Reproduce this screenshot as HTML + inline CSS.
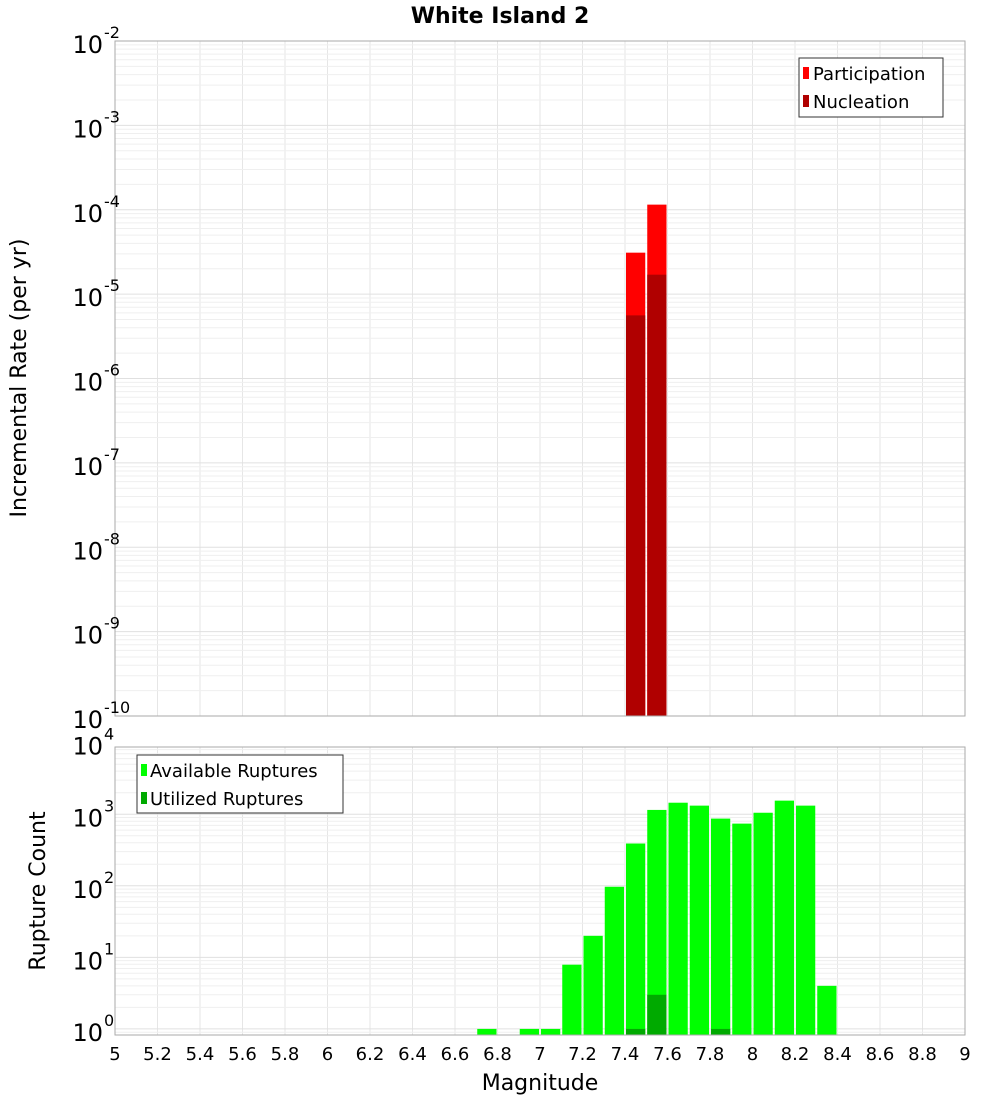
<!DOCTYPE html>
<html><head><meta charset="utf-8"><style>
body{margin:0;background:#fff;}
svg{display:block;font-family:"DejaVu Sans","Liberation Sans",sans-serif;}
</style></head><body>
<svg id="c" width="1000" height="1100"></svg>
<script>
const binCenters=[7.45,7.55];
const participation=[3.1e-5,1.15e-4];
const nucleation=[5.6e-6,1.7e-5];
const countBins=[6.75,6.95,7.05,7.15,7.25,7.35,7.45,7.55,7.65,7.75,7.85,7.95,8.05,8.15,8.25,8.35];
const available=[1,1,1,7.9,20,97,390,1150,1450,1320,870,740,1050,1550,1320,4];
const utilBins=[7.45,7.55,7.85];
const utilized=[1,3,1];
const xTicks=[5,5.2,5.4,5.6,5.8,6,6.2,6.4,6.6,6.8,7,7.2,7.4,7.6,7.8,8,8.2,8.4,8.6,8.8,9];
const topExp=[-2,-3,-4,-5,-6,-7,-8,-9,-10];
const botExp=[0,1,2,3,4];

const NS="http://www.w3.org/2000/svg";
const svg=document.getElementById('c');
function el(t,a,p){const e=document.createElementNS(NS,t);for(const k in a)e.setAttribute(k,a[k]);(p||svg).appendChild(e);return e;}
const X0=115,X1=965;
const x=v=>X0+(v-5)/4*(X1-X0);
const T0=41,T1=716;
const yT=v=>T0+(-2-Math.log10(v))*(T1-T0)/8;
const B0=747,B1=1035,bMin=-0.085,bMax=3.94;
const yB=v=>B1-(Math.log10(v)-bMin)/(bMax-bMin)*(B1-B0);

function grid(top,bot,yf,lo,hi){
  const g=el('g',{});
  
  
  for(const t of xTicks){el('line',{x1:x(t),x2:x(t),y1:top,y2:bot,stroke:'#e6e6e6'},g);}
  for(let e=lo;e<=hi;e++)for(let m=1;m<10;m++){const v=m*Math.pow(10,e);const yy=yf(v);if(yy<top||yy>bot)continue;el('line',{x1:X0,x2:X1,y1:yy,y2:yy,stroke:m==1?'#e0e0e0':'#efefef'},g);}
}
grid(T0,T1,yT,-10,-3);
grid(B0,B1,yB,-1,3);

// top bars
binCenters.forEach((c,i)=>{
  const r=el('rect',{x:x(c-0.05)+1,y:yT(participation[i]),width:x(c+0.05)-x(c-0.05)-2,height:T1-yT(participation[i]),fill:'#ff0000'});
  
  
  const n=el('rect',{x:x(c-0.05)+1,y:yT(nucleation[i]),width:x(c+0.05)-x(c-0.05)-2,height:T1-yT(nucleation[i]),fill:'#b00000'});
  
  
});
countBins.forEach((c,i)=>{
  const r=el('rect',{x:x(c-0.05)+1,y:yB(available[i]),width:x(c+0.05)-x(c-0.05)-2,height:B1-yB(available[i]),fill:'#00ff00'});
  
  
});
utilBins.forEach((c,i)=>{
  const r=el('rect',{x:x(c-0.05)+1,y:yB(utilized[i]),width:x(c+0.05)-x(c-0.05)-2,height:B1-yB(utilized[i]),fill:'#00aa00'});
  
  
});
// frames
const f1=el('rect',{x:X0,y:T0,width:X1-X0,height:T1-T0,fill:'none',stroke:'#aaa'});

const f2=el('rect',{x:X0,y:B0,width:X1-X0,height:B1-B0,fill:'none',stroke:'#aaa'});


// y ticks
function ylab(e,yy,name){
  const t=el('text',{x:103,y:yy+12,'text-anchor':'end','font-size':24,fill:'#000'});
  
  t.textContent='10';
  const s=el('text',{x:104,y:yy-3,'text-anchor':'start','font-size':16,fill:'#000'});
  
  s.textContent=String(e);
}
topExp.forEach(e=>ylab(e,yT(Math.pow(10,e)),'top-y-tick'));
botExp.forEach(e=>ylab(e,yB(Math.pow(10,e)),'bottom-y-tick'));
xTicks.forEach(t=>{
  const tx=el('text',{x:x(t),y:1060,'text-anchor':'middle','font-size':18,fill:'#000'});
  
  tx.textContent=String(t);
});
</script>
<svg width="1000" height="1100" style="position:absolute;left:0;top:0;font-family:'DejaVu Sans','Liberation Sans',sans-serif">
<text x="500" y="23" text-anchor="middle" font-size="22" font-weight="bold">White Island 2</text>
<text transform="translate(26,378) rotate(-90)" text-anchor="middle" font-size="22">Incremental Rate (per yr)</text>
<text transform="translate(45,891) rotate(-90)" text-anchor="middle" font-size="22">Rupture Count</text>
<text x="540" y="1090" text-anchor="middle" font-size="22">Magnitude</text>
<g>
<rect x="799" y="58" width="144" height="59" fill="#fff" stroke="#333"/>
<rect x="803" y="67" width="6" height="12" fill="#ff0000"/>
<text x="813" y="80" font-size="18">Participation</text>
<rect x="803" y="95" width="6" height="12" fill="#b00000"/>
<text x="813" y="108" font-size="18">Nucleation</text>
</g>
<g>
<rect x="137" y="755" width="206" height="58" fill="#fff" stroke="#333"/>
<rect x="141" y="764" width="6" height="12" fill="#00ff00"/>
<text x="150" y="777" font-size="18">Available Ruptures</text>
<rect x="141" y="792" width="6" height="12" fill="#00aa00"/>
<text x="150" y="805" font-size="18">Utilized Ruptures</text>
</g>
</svg>
</body></html>
